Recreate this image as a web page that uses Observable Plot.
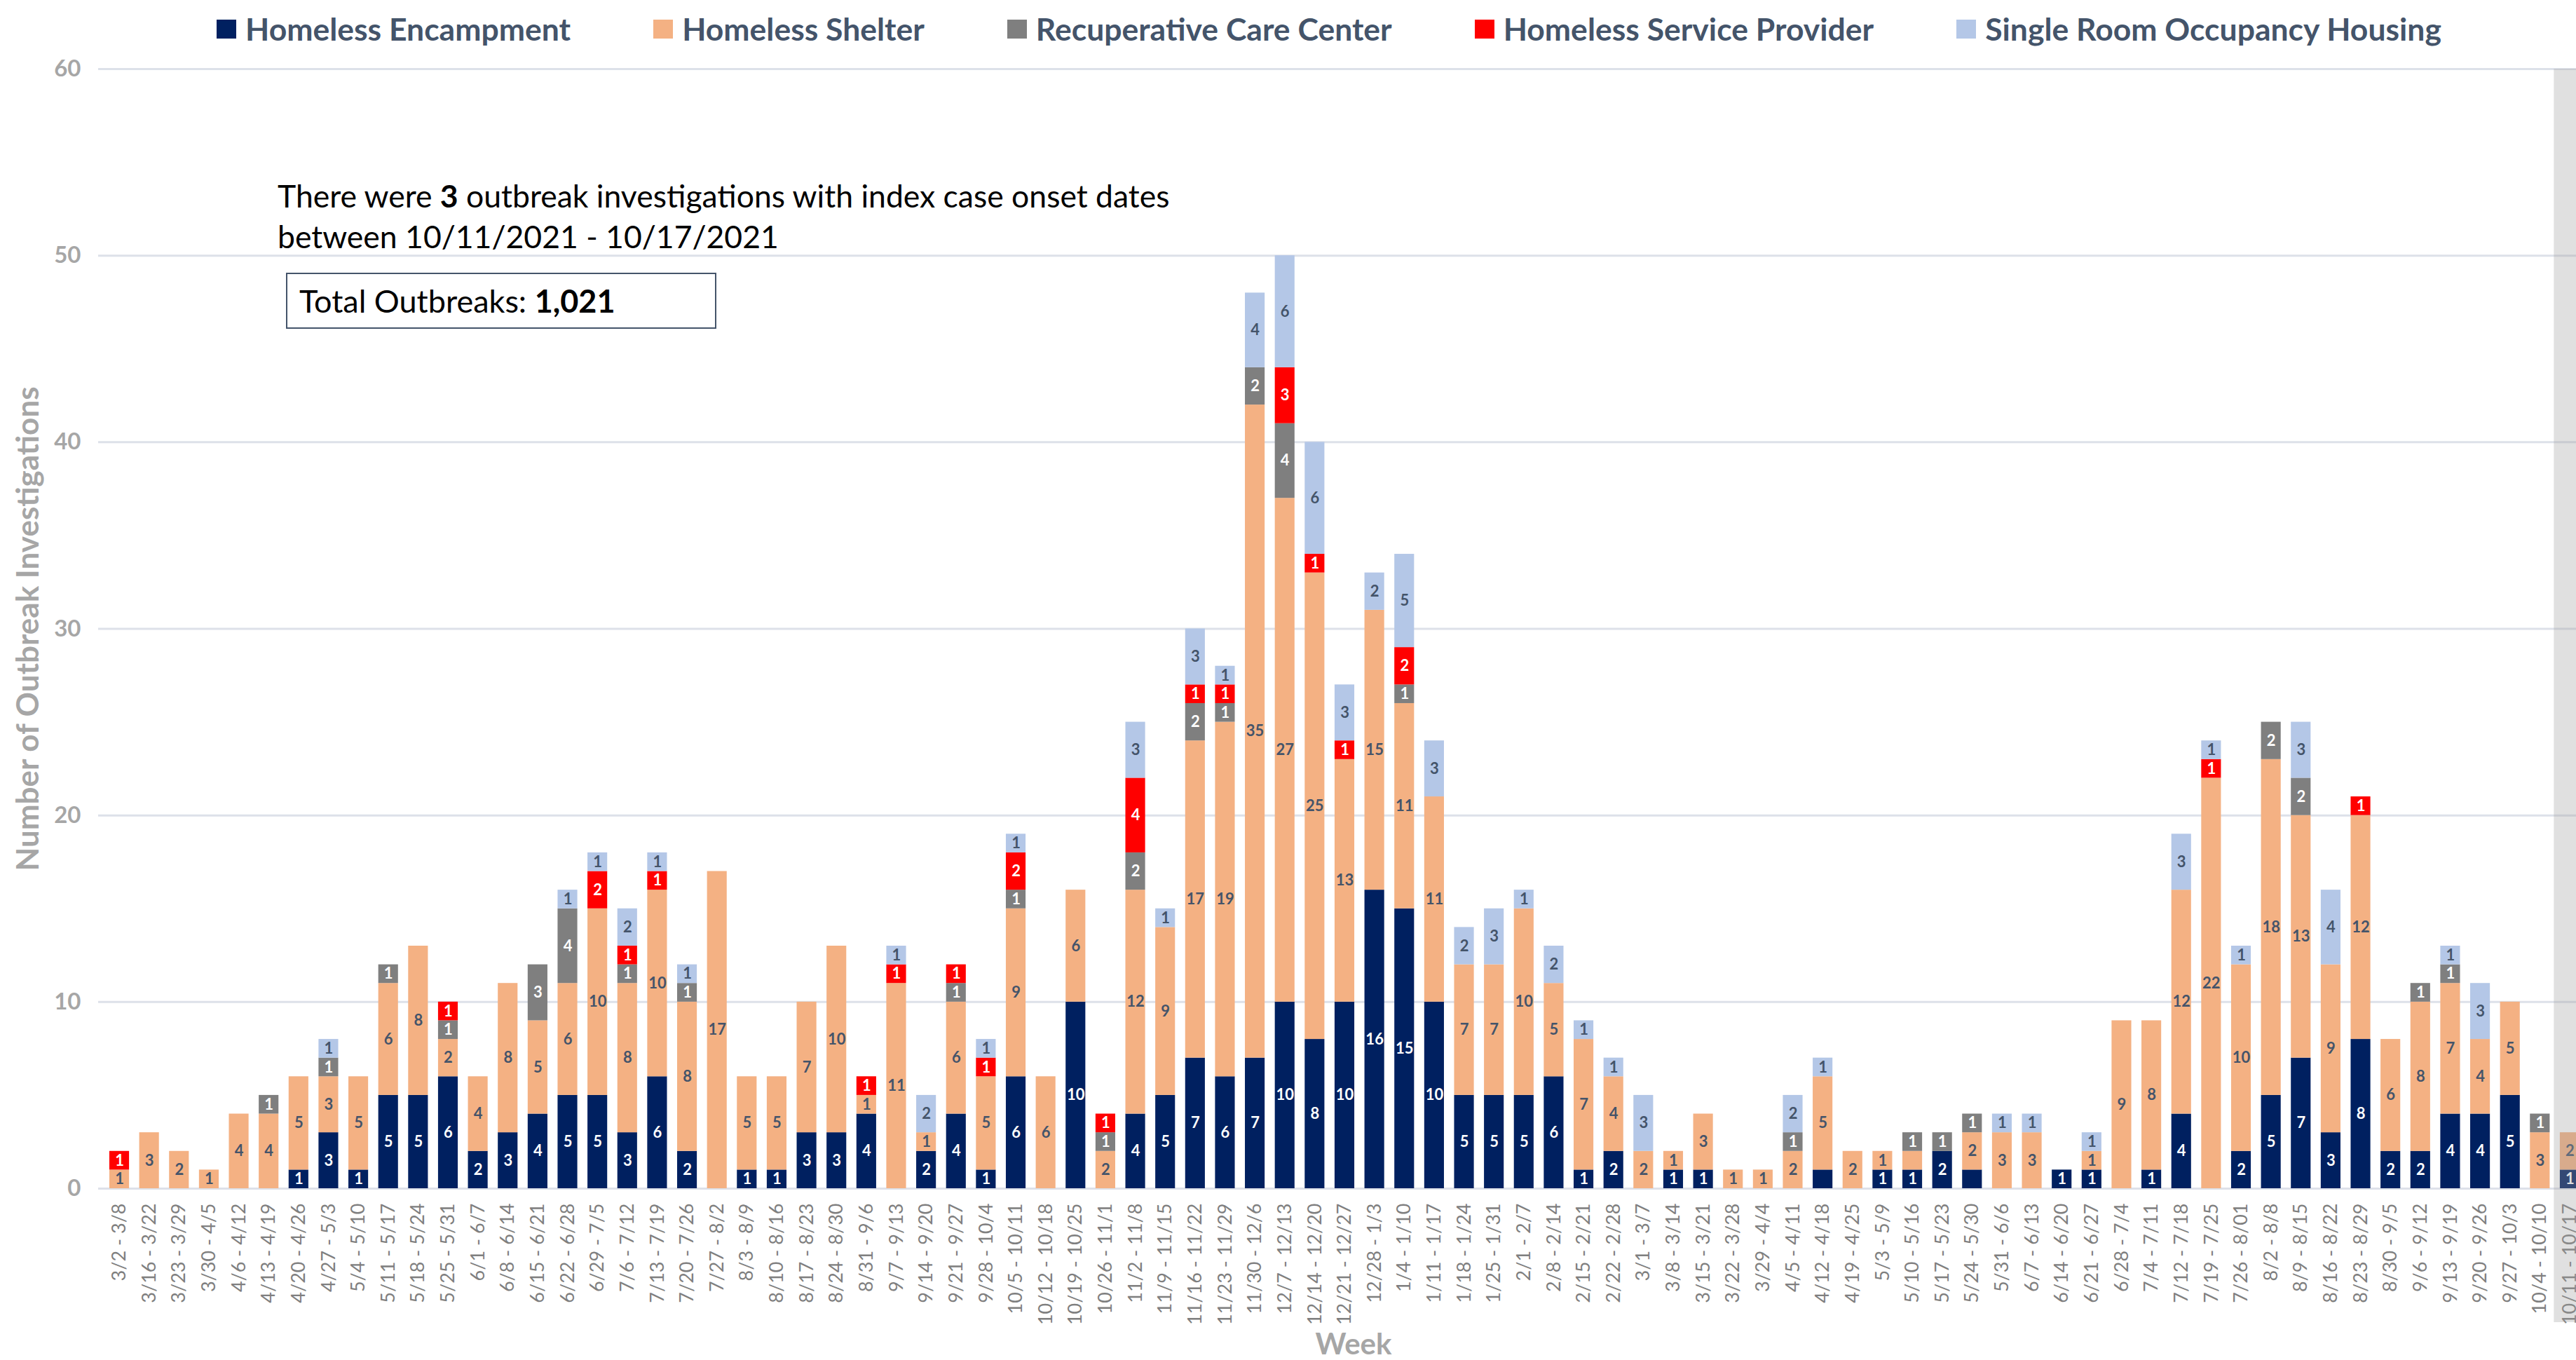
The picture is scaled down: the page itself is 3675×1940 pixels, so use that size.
<!DOCTYPE html>
<html>
<head>
<meta charset="utf-8">
<script src="https://cdn.jsdelivr.net/npm/d3@7"></script>
<script src="https://cdn.jsdelivr.net/npm/@observablehq/plot@0.6"></script>
<style>
  html, body { margin: 0; padding: 0; background: #fff; overflow: hidden; }
  #wrap { position: relative; width: 3675px; height: 1940px; font-family: Lato, "Open Sans", sans-serif; }
  #chart { position: absolute; left: 0; top: 0; }
  #legend { position: absolute; left: 0; top: 17px; width: 3792px; display: flex; justify-content: center; gap: 118px; align-items: center; }
  .item { display: flex; align-items: center; gap: 13px; font-weight: 700; font-size: 44.5px; color: #44546A; line-height: 48px; white-space: nowrap; }
  .sw { width: 28px; height: 27px; display: inline-block; }
  #note { position: absolute; left: 396px; top: 250px; font-size: 44.5px; line-height: 58px; color: #000; white-space: nowrap; }
  #box { position: absolute; left: 408px; top: 389px; width: 593px; height: 76px; border: 2px solid #44546A; font-size: 45px; line-height: 76px; padding-left: 17px; box-sizing: content-box; white-space: nowrap; color: #000; }
  #week { position: absolute; left: 1731px; width: 400px; top: 1895px; text-align: center; font-size: 42px; line-height: 42px; font-weight: 700; color: #A6A6A6; }
</style>
</head>
<body>
<div id="wrap">
  <div id="chart"></div>
  <div id="legend"></div>
  <div id="note">There were <b>3</b> outbreak investigations with index case onset dates<br>between 10/11/2021 - 10/17/2021</div>
  <div id="box">Total Outbreaks: <b>1,021</b></div>
  <div id="week">Week</div>
</div>
<script>
// ---------- data ----------
const weeks = ["3/2 - 3/8","3/16 - 3/22","3/23 - 3/29","3/30 - 4/5","4/6 - 4/12","4/13 - 4/19","4/20 - 4/26","4/27 - 5/3","5/4 - 5/10","5/11 - 5/17","5/18 - 5/24","5/25 - 5/31","6/1 - 6/7","6/8 - 6/14","6/15 - 6/21","6/22 - 6/28","6/29 - 7/5","7/6 - 7/12","7/13 - 7/19","7/20 - 7/26","7/27 - 8/2","8/3 - 8/9","8/10 - 8/16","8/17 - 8/23","8/24 - 8/30","8/31 - 9/6","9/7 - 9/13","9/14 - 9/20","9/21 - 9/27","9/28 - 10/4","10/5 - 10/11","10/12 - 10/18","10/19 - 10/25","10/26 - 11/1","11/2 - 11/8","11/9 - 11/15","11/16 - 11/22","11/23 - 11/29","11/30 - 12/6","12/7 - 12/13","12/14 - 12/20","12/21 - 12/27","12/28 - 1/3","1/4 - 1/10","1/11 - 1/17","1/18 - 1/24","1/25 - 1/31","2/1 - 2/7","2/8 - 2/14","2/15 - 2/21","2/22 - 2/28","3/1 - 3/7","3/8 - 3/14","3/15 - 3/21","3/22 - 3/28","3/29 - 4/4","4/5 - 4/11","4/12 - 4/18","4/19 - 4/25","5/3 - 5/9","5/10 - 5/16","5/17 - 5/23","5/24 - 5/30","5/31 - 6/6","6/7 - 6/13","6/14 - 6/20","6/21 - 6/27","6/28 - 7/4","7/4 - 7/11","7/12 - 7/18","7/19 - 7/25","7/26 - 8/01","8/2 - 8/8","8/9 - 8/15","8/16 - 8/22","8/23 - 8/29","8/30 - 9/5","9/6 - 9/12","9/13 - 9/19","9/20 - 9/26","9/27 - 10/3","10/4 - 10/10","10/11 - 10/17"];

const series = ["Homeless Encampment","Homeless Shelter","Recuperative Care Center","Homeless Service Provider","Single Room Occupancy Housing"];

const encampment = [0,0,0,0,0,0,1,3,1,5, 5,6,2,3,4,5,5,3,6,2, 0,1,1,3,3,4,0,2,4,1, 6,0,10,0,4,5,7,6,7,10, 8,10,16,15,10,5,5,5,6,1, 2,0,1,1,0,0,0,1,0,1, 1,2,1,0,0,1,1,0,1,4, 0,2,5,7,3,8,2,2,4,4, 5,0,1];
const shelter = [1,3,2,1,4,4,5,3,5,6, 8,2,4,8,5,6,10,8,10,8, 17,5,5,7,10,1,11,1,6,5, 9,6,6,2,12,9,17,19,35,27, 25,13,15,11,11,7,7,10,5,7, 4,2,1,3,1,1,2,5,2,1, 1,0,2,3,3,0,1,9,8,12, 22,10,18,13,9,12,6,8,7,4, 5,3,2];
const recuperative = [0,0,0,0,0,1,0,1,0,1, 0,1,0,0,3,4,0,1,0,1, 0,0,0,0,0,0,0,0,1,0, 1,0,0,1,2,0,2,1,2,4, 0,0,0,1,0,0,0,0,0,0, 0,0,0,0,0,0,1,0,0,0, 1,1,1,0,0,0,0,0,0,0, 0,0,2,2,0,0,0,1,1,0, 0,1,0];
const provider = [1,0,0,0,0,0,0,0,0,0, 0,1,0,0,0,0,2,1,1,0, 0,0,0,0,0,1,1,0,1,1, 2,0,0,1,4,0,1,1,0,3, 1,1,0,2,0,0,0,0,0,0, 0,0,0,0,0,0,0,0,0,0, 0,0,0,0,0,0,0,0,0,0, 1,0,0,0,0,1,0,0,0,0, 0,0,0];
const sro = [0,0,0,0,0,0,0,1,0,0, 0,0,0,0,0,1,1,2,1,1, 0,0,0,0,0,0,1,2,0,1, 1,0,0,0,3,1,3,1,4,6, 6,3,2,5,3,2,3,1,2,1, 1,3,0,0,0,0,2,1,0,0, 0,0,0,1,1,0,1,0,0,3, 1,1,0,3,4,0,0,0,1,3, 0,0,0];

// segments shown without a value label in the original
const unlabeled = ["4/12 - 4/18|Homeless Encampment", "5/10 - 5/16|Homeless Shelter", "5/24 - 5/30|Homeless Encampment"];

const yTicks = [0, 10, 20, 30, 40, 50, 60];

// ---------- styling ----------
const colors = ["#002060", "#F4B183", "#7F7F7F", "#FF0000", "#B4C7E7"];
const labelColors = ["#FFFFFF", "#44546A", "#FFFFFF", "#FFFFFF", "#44546A"];

// ---------- table ----------
const valuesBySeries = [encampment, shelter, recuperative, provider, sro];
const rows = [];
weeks.forEach((w, i) => {
  series.forEach((s, j) => {
    const v = valuesBySeries[j][i];
    if (v > 0) rows.push({week: w, series: s, value: v, labelColor: labelColors[j]});
  });
});
const hidden = new Set(unlabeled);

const chart = Plot.plot({
  width: 3675,
  height: 1940,
  marginLeft: 140,
  marginRight: 0,
  marginTop: 98,
  marginBottom: 245,
  style: {fontFamily: "Lato, 'Open Sans', sans-serif", background: "white", overflow: "hidden"},
  x: {domain: weeks, range: [140, 3696], paddingInner: 0.34, paddingOuter: 0.374, round: false},
  y: {domain: [0, 60]},
  color: {domain: series, range: colors},
  marks: [
    Plot.gridY({ticks: yTicks, stroke: "#DDE1E9", strokeOpacity: 1, strokeWidth: 3}),
    Plot.barY(rows, {x: "week", y: "value", fill: "series", z: "series"}),
    Plot.text(rows, Plot.stackY({
      x: "week", y: "value", z: "series",
      text: d => hidden.has(d.week + "|" + d.series) ? null : String(d.value),
      fill: {value: d => d.labelColor, scale: null},
      fontSize: 22, fontWeight: "bold"
    })),
    Plot.axisY({ticks: yTicks, tickSize: 0, tickPadding: 25, fontSize: 33, fontWeight: "bold", fill: "#A6A6A6", label: null}),
    Plot.text(["Number of Outbreak Investigations"], {
      frameAnchor: "left", textAnchor: "middle", rotate: -90, dx: -117, lineAnchor: "top",
      fontSize: 44, fontWeight: "bold", fill: "#A6A6A6"
    }),
    Plot.axisX({tickRotate: -90, tickSize: 0, tickPadding: 21, fontSize: 27, fill: "#7F7F7F", label: null})
  ]
});
document.getElementById("chart").appendChild(chart);

// shaded highlight of the most recent (incomplete) week
const xs = chart.scale("x");
const ys = chart.scale("y");
const lastX = xs.apply(weeks[weeks.length - 1]) - xs.step * 0.2;
const topY = ys.apply(60);
d3.select(chart).append("rect")
  .attr("x", lastX).attr("y", topY)
  .attr("width", 200).attr("height", 1886 - topY)
  .attr("fill", "#A0A0A0").attr("fill-opacity", 0.32);

// legend
const legend = document.getElementById("legend");
series.forEach((s, j) => {
  const it = document.createElement("div");
  it.className = "item";
  const sw = document.createElement("span");
  sw.className = "sw";
  sw.style.background = colors[j];
  const tx = document.createElement("span");
  tx.textContent = s;
  it.appendChild(sw);
  it.appendChild(tx);
  legend.appendChild(it);
});
</script>
</body>
</html>
